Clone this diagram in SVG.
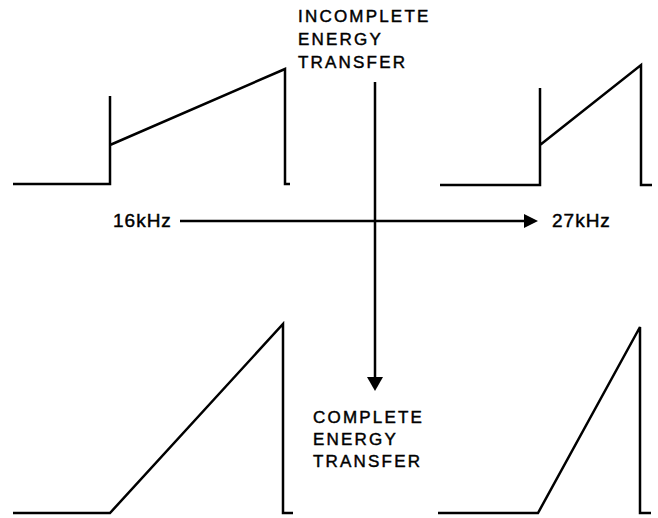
<svg xmlns="http://www.w3.org/2000/svg" width="658" height="518" viewBox="0 0 658 518">
<style>
.w{fill:none;stroke:#000;stroke-width:2.5;stroke-linejoin:miter}
.c{fill:none;stroke:#000;stroke-width:2.5}
.t{font-family:"Liberation Sans",Arial,sans-serif;font-size:17px;letter-spacing:2.2px;fill:#000;stroke:#000;stroke-width:0.45}
.f{font-family:"Liberation Sans",Arial,sans-serif;font-size:19px;letter-spacing:1px;fill:#000;stroke:#000;stroke-width:0.45}
</style>
<rect width="658" height="518" fill="#fff"/>
<g id="wave-incomplete-16k">
<path class="w" d="M13,184 H110 V96 M110,145 L285,69 V184 H290"/>
</g>
<g id="wave-incomplete-27k">
<path class="w" d="M440,185 H540 V88 M540,145 L641,65 V185 H652"/>
</g>
<g id="wave-complete-16k">
<path class="w" d="M13,513 H110 L283,324 V513 H293"/>
</g>
<g id="wave-complete-27k">
<path class="w" d="M438,513 H538 L640,327 V513 H651"/>
</g>
<g id="label-incomplete">
<text class="t" x="298" y="22">INCOMPLETE</text>
<text class="t" x="298" y="45">ENERGY</text>
<text class="t" x="298" y="68">TRANSFER</text>
</g>
<g id="label-complete">
<text class="t" x="313" y="423">COMPLETE</text>
<text class="t" x="313" y="445">ENERGY</text>
<text class="t" x="313" y="467">TRANSFER</text>
</g>
<g id="label-16k"><text class="f" x="113" y="227">16kHz</text></g>
<g id="label-27k"><text class="f" x="552" y="227">27kHz</text></g>
<g id="connectors">
<path d="M180,221 H526" class="c"/>
<path d="M524,214 L538,221 L524,228 Z" fill="#000"/>
<path d="M375,82 V378" class="c"/>
<path d="M367,377 L375,391 L383,377 Z" fill="#000"/>
</g>
</svg>
